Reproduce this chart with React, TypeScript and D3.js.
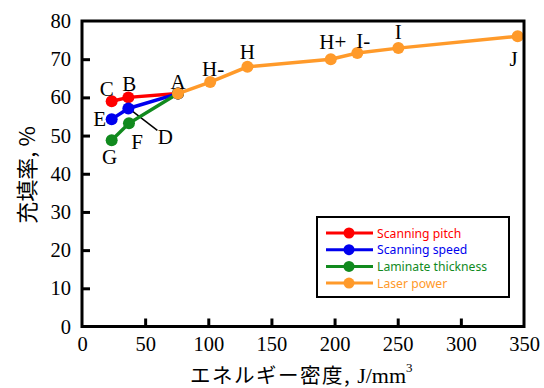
// Packing density vs energy density, drawn with D3

import React, { useEffect, useRef } from 'react'
import * as d3 from 'd3'

// Data
const pitchX = [23.5, 36.7, 76]
const pitchY = [59.0, 60.0, 61.0]
const speedX = [23.5, 36.7, 76]
const speedY = [54.3, 57.1, 61.0]
const layerX = [23.5, 37.2, 76]
const layerY = [48.8, 53.2, 61.0]
const powerX = [76, 101.5, 131, 197, 218, 250.5, 345]
const powerY = [61.0, 64.0, 68.0, 70.0, 71.6, 72.9, 76.0]

const seriesNames = ['Scanning pitch', 'Scanning speed', 'Laminate thickness', 'Laser power']
const seriesColors = ['#ff0000', '#0000ee', '#118a1e', '#ff9a2a']

const xTicks = [0, 50, 100, 150, 200, 250, 300, 350]
const yTicks = [0, 10, 20, 30, 40, 50, 60, 70, 80]

// point labels: [text, x value, y value, dx, dy]
const pointLabels: [string, number, number, number, number][] = [
  ['C', 23.5, 59.0, -5, -12],
  ['B', 36.7, 60.0, 1, -13],
  ['A', 76, 61.0, 0, -12],
  ['E', 23.5, 54.3, -12, 0],
  ['D', 36.7, 57.1, 37, 29],
  ['F', 37.2, 53.2, 8, 19],
  ['G', 23.5, 48.8, -2, 17],
  ['H-', 101.5, 64.0, 3, -13],
  ['H', 131, 68.0, 0, -15],
  ['H+', 197, 70.0, 2, -17],
  ['I-', 218, 71.6, 6, -12],
  ['I', 250.5, 72.9, 0, -16],
  ['J', 345, 76.0, -4, 23],
]

const W = 544
const H = 388
const M = { left: 82, right: 524, top: 21, bottom: 326.5 }
const SERIF = 'Liberation Serif'

const draw = (el: SVGSVGElement) => {
  const svg = d3.select(el)
  svg.selectAll('*').remove()

  const x = d3.scaleLinear().domain([0, 350]).range([M.left, M.right])
  const y = d3.scaleLinear().domain([0, 80]).range([M.bottom, M.top])

  // Series lines and dots
  const series = [
    [pitchX, pitchY],
    [speedX, speedY],
    [layerX, layerY],
    [powerX, powerY],
  ]
  const line = d3
    .line<[number, number]>()
    .x(d => x(d[0]))
    .y(d => y(d[1]))

  // leader line for D
  svg
    .append('line')
    .attr('x1', x(36.7) + 3)
    .attr('y1', y(57.1) + 2)
    .attr('x2', x(36.7) + 29)
    .attr('y2', y(57.1) + 22)
    .attr('stroke', 'black')
    .attr('stroke-width', 1.5)

  series.forEach(([xs, ys], i) => {
    const pts = xs.map((v, j) => [v, ys[j]] as [number, number])
    svg
      .append('path')
      .attr('d', line(pts))
      .attr('fill', 'none')
      .attr('stroke', seriesColors[i])
      .attr('stroke-width', 3.5)
    svg
      .append('g')
      .selectAll('circle')
      .data(pts)
      .join('circle')
      .attr('cx', d => x(d[0]))
      .attr('cy', d => y(d[1]))
      .attr('r', 6)
      .attr('fill', seriesColors[i])
  })

  // Frame
  svg
    .append('rect')
    .attr('x', M.left)
    .attr('y', M.top)
    .attr('width', M.right - M.left)
    .attr('height', M.bottom - M.top)
    .attr('fill', 'none')
    .attr('stroke', 'black')
    .attr('stroke-width', 3)

  // Axes, ticks pointing inwards
  const xAxis = svg
    .append('g')
    .attr('transform', `translate(0, ${M.bottom})`)
    .call(d3.axisBottom(x).tickValues(xTicks).tickSize(-8).tickSizeOuter(0).tickPadding(10))
  const yAxis = svg
    .append('g')
    .attr('transform', `translate(${M.left}, 0)`)
    .call(d3.axisLeft(y).tickValues(yTicks).tickSize(-8).tickSizeOuter(0).tickPadding(11))

  ;[xAxis, yAxis].forEach(a => {
    a.attr('font-family', null).attr('font-size', null)
    a.select('.domain').remove()
    a.selectAll('line').attr('stroke', 'black').attr('stroke-width', 3)
    a.selectAll('text').attr('fill', 'black').attr('font-family', SERIF).attr('font-size', 20.5)
  })
  xAxis.selectAll('line').filter((d: any) => d === 0 || d === 350).remove()
  yAxis.selectAll('line').filter((d: any) => d === 0 || d === 80).remove()

  // Point labels
  svg
    .append('g')
    .selectAll('text')
    .data(pointLabels)
    .join('text')
    .attr('x', d => x(d[1]) + d[3])
    .attr('y', d => y(d[2]) + d[4])
    .attr('text-anchor', 'middle')
    .attr('dominant-baseline', 'central')
    .attr('font-family', SERIF)
    .attr('font-size', 21)
    .text(d => d[0])

  // Axis titles
  svg
    .append('text')
    .attr('transform', `translate(25, 175) rotate(-90)`)
    .attr('text-anchor', 'middle')
    .attr('dominant-baseline', 'central')
    .attr('font-family', 'Noto Sans CJK JP')
    .attr('font-size', 22)
    .text('充填率, %')

  const xt = svg
    .append('text')
    .attr('x', 302)
    .attr('y', 382.5)
    .attr('text-anchor', 'middle')
    .attr('font-family', 'Noto Sans CJK JP')
    .attr('font-size', 20.5)
    .attr('letter-spacing', 1.5)
  xt.append('tspan').text('エネルギー密度, ')
  xt.append('tspan').attr('font-family', SERIF).attr('font-size', 22).attr('letter-spacing', 0).text('J/mm')
  xt.append('tspan').attr('font-family', SERIF).attr('font-size', 13).attr('dy', -11).text('3')

  // Legend
  const lg = svg.append('g').attr('transform', 'translate(317, 217)')
  lg.append('rect')
    .attr('width', 192)
    .attr('height', 80)
    .attr('fill', 'white')
    .attr('stroke', 'black')
    .attr('stroke-width', 2)
  seriesNames.forEach((name, i) => {
    const row = lg.append('g').attr('transform', `translate(0, ${16 + i * 16.7})`)
    row.append('line')
      .attr('x1', 9)
      .attr('x2', 56)
      .attr('stroke', seriesColors[i])
      .attr('stroke-width', 3)
    row.append('circle').attr('cx', 32).attr('r', 5.5).attr('fill', seriesColors[i])
    row.append('text')
      .attr('x', 60)
      .attr('dominant-baseline', 'central')
      .attr('font-family', 'Noto Sans')
      .attr('font-size', 12.2)
      .attr('fill', seriesColors[i])
      .text(name)
  })
}

export default function App() {
  const ref = useRef<SVGSVGElement>(null)
  useEffect(() => {
    if (ref.current) draw(ref.current)
  }, [])
  return (
    <svg
      ref={ref}
      width={W}
      height={H}
      style={{ position: 'absolute', left: 0, top: 0, background: 'white' }}
    />
  )
}
